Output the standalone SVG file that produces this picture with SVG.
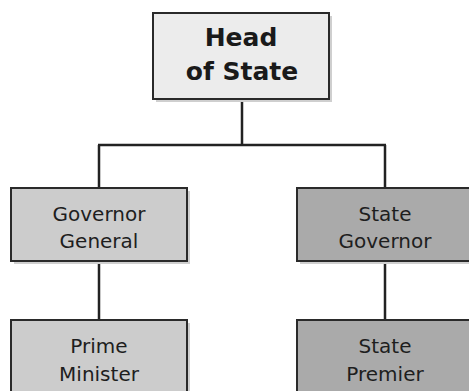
<svg xmlns="http://www.w3.org/2000/svg" width="469" height="391" viewBox="0 0 469 391">
<style>
.box{stroke:#2a2a2a;stroke-width:2}
.sh{fill:#cfcfcf}
.conn{stroke:#222;stroke-width:2.5;fill:none}
.t{font-family:"DejaVu Sans",sans-serif;font-size:20px;fill:#1e1e1e;text-anchor:middle}
.th{font-family:"DejaVu Sans",sans-serif;font-size:25px;font-weight:bold;fill:#1a1a1a;text-anchor:middle}
</style>
<rect width="469" height="391" fill="#ffffff"/>
<g id="connectors">
<path class="conn" d="M242 99V145M98 145H386M99 145V188M385 145V188M99 261V320M385 261V320"/>
</g>
<g id="head-of-state">
<rect class="sh" x="156" y="16" width="176" height="86"/>
<rect class="box" x="153" y="13" width="176" height="86" fill="#ececec"/>
<text class="th" x="241" y="46">Head</text>
<text class="th" x="242" y="80">of State</text>
</g>
<g id="governor-general">
<rect class="sh" x="14" y="191" width="176" height="73"/>
<rect class="box" x="11" y="188" width="176" height="73" fill="#cccccc"/>
<text class="t" x="99" y="221">Governor</text>
<text class="t" x="99" y="248">General</text>
</g>
<g id="state-governor">
<rect class="sh" x="300" y="191" width="176" height="73"/>
<rect class="box" x="297" y="188" width="176" height="73" fill="#aaaaaa"/>
<text class="t" x="385" y="221">State</text>
<text class="t" x="385" y="248">Governor</text>
</g>
<g id="prime-minister">
<rect class="sh" x="14" y="323" width="176" height="80"/>
<rect class="box" x="11" y="320" width="176" height="80" fill="#cccccc"/>
<text class="t" x="99" y="353">Prime</text>
<text class="t" x="99" y="381">Minister</text>
</g>
<g id="state-premier">
<rect class="sh" x="300" y="323" width="176" height="80"/>
<rect class="box" x="297" y="320" width="176" height="80" fill="#aaaaaa"/>
<text class="t" x="385" y="353">State</text>
<text class="t" x="385" y="381">Premier</text>
</g>
</svg>
